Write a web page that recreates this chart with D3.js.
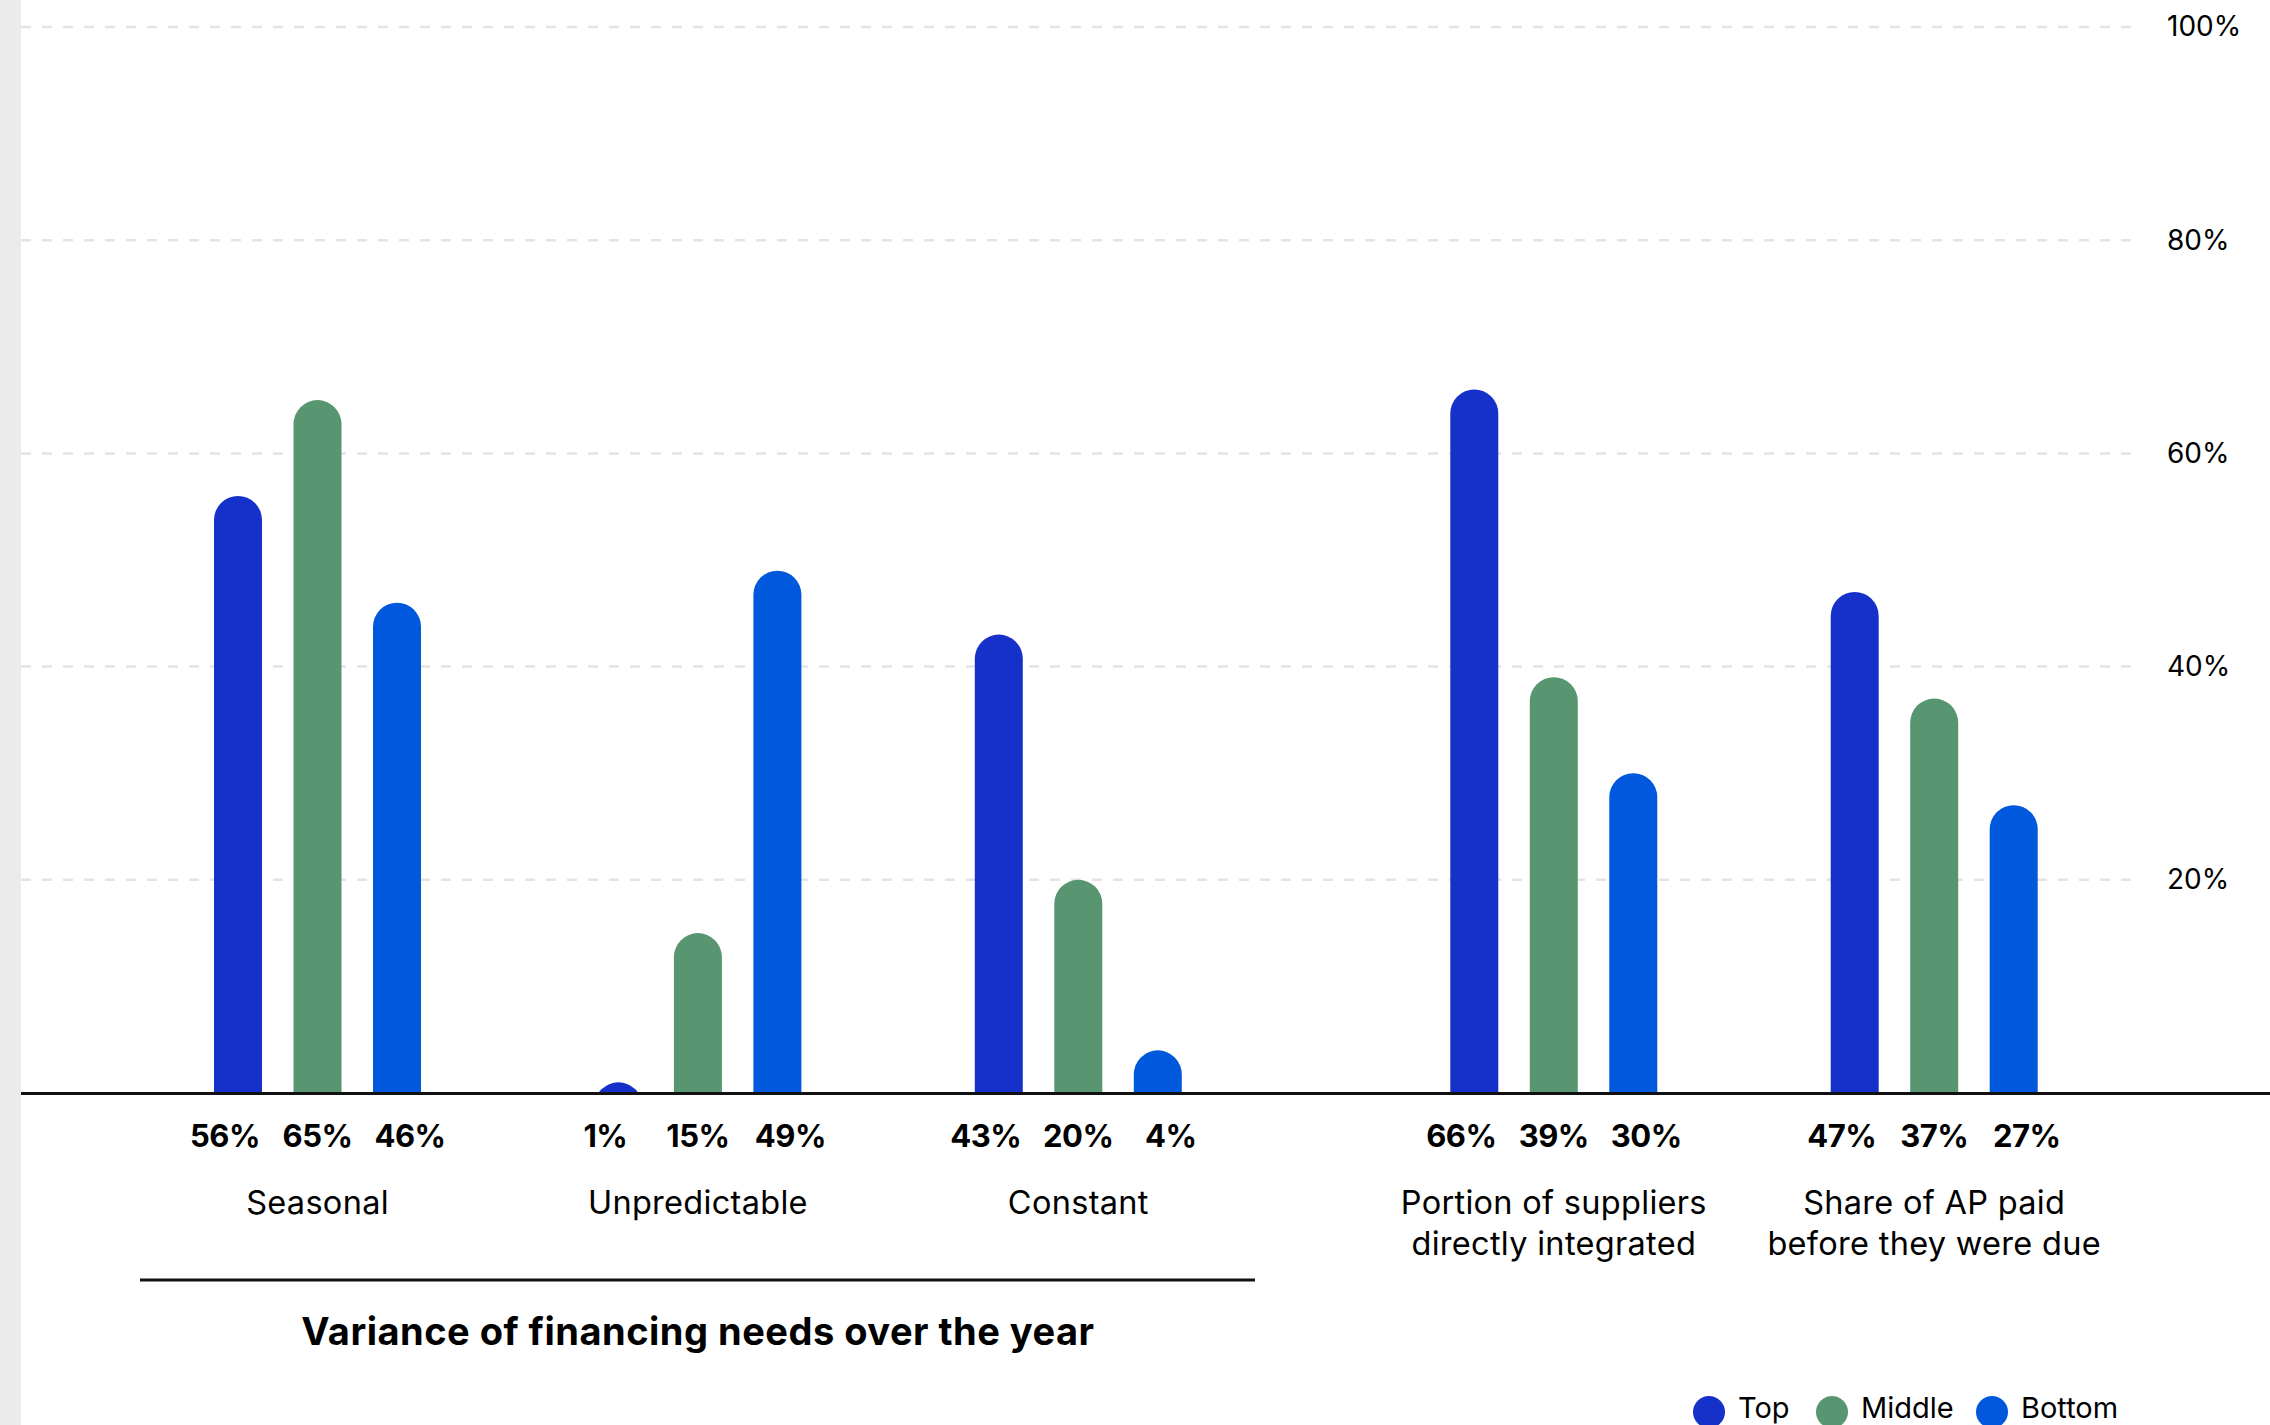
<!DOCTYPE html>
<html>
<head>
<meta charset="utf-8">
<script src="https://cdn.jsdelivr.net/npm/d3@7"></script>
<style>
  html, body { margin: 0; padding: 0; background: #fff; }
  svg { display: block; }
  text { font-family: Inter, "Noto Sans", sans-serif; fill: #000; }
</style>
</head>
<body>
<svg id="chart" width="2270" height="1425"></svg>
<script>
// ---- data ----
const categories = [
  ["Seasonal"],
  ["Unpredictable"],
  ["Constant"],
  ["Portion of suppliers", "directly integrated"],
  ["Share of AP paid", "before they were due"]
];
const categorySlots = [0, 1, 2, 3.25, 4.25];
const seriesNames = ["Top", "Middle", "Bottom"];
const topValues    = [56, 1, 43, 66, 47];
const middleValues = [65, 15, 20, 39, 37];
const bottomValues = [46, 49, 4, 30, 27];
const yTicks = [20, 40, 60, 80, 100];
const groupTitle = "Variance of financing needs over the year";
const colors = ["#1631c9", "#579670", "#0058dc"];

const seriesValues = [topValues, middleValues, bottomValues];

const svg = d3.select("#chart");
const W = 2270, H = 1425;

// left grey strip
svg.append("rect").attr("x", 0).attr("y", 0).attr("width", 21).attr("height", H).attr("fill", "#ebebeb");

const y = d3.scaleLinear().domain([0, 100]).range([1093, 27]);
const xSlot = d3.scaleLinear().domain([0, 1]).range([317.5, 697.9]);
const xBar = d3.scalePoint().domain(seriesNames).range([-79.5, 79.5]);
const xLbl = d3.scalePoint().domain(seriesNames).range([-92.5, 92.5]);
const barW = 48;

// gridlines
const grid = svg.append("g");
grid.selectAll("line").data(yTicks).join("line")
  .attr("x1", 21).attr("x2", 2133)
  .attr("y1", d => y(d)).attr("y2", d => y(d))
  .attr("stroke", "#e4e4e4").attr("stroke-width", 2.5)
  .attr("stroke-dasharray", "10,11");

// right axis labels
const yAxis = d3.axisRight(y).tickValues(yTicks).tickFormat(d => d + "%").tickSize(0).tickPadding(0);
const ya = svg.append("g").attr("transform", "translate(2167,0)").call(yAxis);
ya.select(".domain").remove();
ya.selectAll("text").attr("font-size", 28).attr("font-family", "Inter, sans-serif").attr("fill", "#111").attr("dy", "0.32em");

// clip for bars
svg.append("clipPath").attr("id", "plotclip").append("rect")
  .attr("x", 0).attr("y", 0).attr("width", W).attr("height", y(0));

const bars = svg.append("g").attr("clip-path", "url(#plotclip)");
categories.forEach((cat, ci) => {
  const cx = xSlot(categorySlots[ci]);
  seriesNames.forEach((s, si) => {
    const v = seriesValues[si][ci];
    const bx = cx + xBar(s) - barW / 2;
    bars.append("rect")
      .attr("x", bx).attr("width", barW)
      .attr("y", y(v)).attr("height", y(0) - y(v) + barW)
      .attr("rx", barW / 2).attr("ry", barW / 2)
      .attr("fill", colors[si]);
  });
});

// baseline
svg.append("line").attr("x1", 21).attr("x2", W).attr("y1", y(0) + 0.5).attr("y2", y(0) + 0.5)
  .attr("stroke", "#111").attr("stroke-width", 3);

// value labels & category labels
const labels = svg.append("g");
categories.forEach((cat, ci) => {
  const cx = xSlot(categorySlots[ci]);
  seriesNames.forEach((s, si) => {
    labels.append("text")
      .attr("x", cx + xLbl(s)).attr("y", 1147)
      .attr("text-anchor", "middle")
      .attr("font-size", 31).attr("font-weight", 700)
      .attr("letter-spacing", -0.5)
      .text(seriesValues[si][ci] + "%");
  });
  cat.forEach((line, li) => {
    labels.append("text")
      .attr("x", cx).attr("y", 1214 + li * 41)
      .attr("text-anchor", "middle")
      .attr("font-size", 32.5).attr("font-weight", 400)
      .attr("letter-spacing", 0.3)
      .text(line);
  });
});

// group bracket line and title
svg.append("line").attr("x1", 140).attr("x2", 1255).attr("y1", 1280).attr("y2", 1280)
  .attr("stroke", "#111").attr("stroke-width", 3);
svg.append("text").attr("x", xSlot(1)).attr("y", 1345).attr("text-anchor", "middle")
  .attr("font-size", 38).attr("font-weight", 700).attr("letter-spacing", 0.5)
  .text(groupTitle);

// legend
const legendX = [1709, 1832, 1992];
const lg = svg.append("g");
seriesNames.forEach((s, si) => {
  lg.append("circle").attr("cx", legendX[si]).attr("cy", 1412).attr("r", 16).attr("fill", colors[si]);
  lg.append("text").attr("x", legendX[si] + 29).attr("y", 1418)
    .attr("font-size", 29).text(s);
});
</script>
</body>
</html>
